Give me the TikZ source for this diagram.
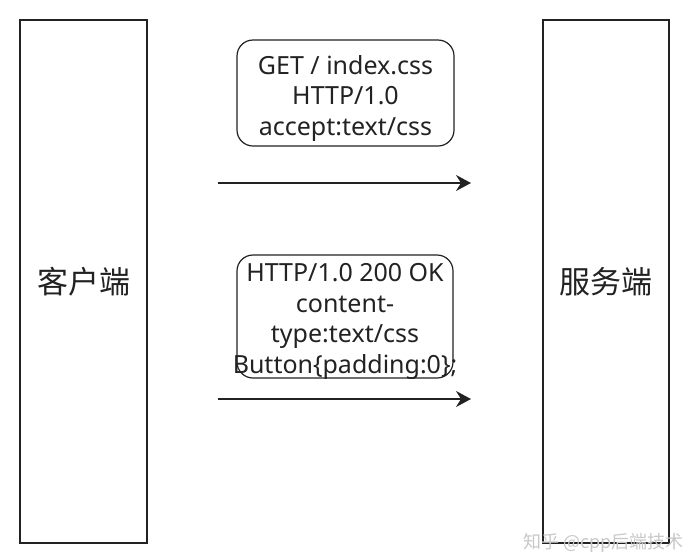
\documentclass[tikz,border=0pt]{standalone}
\usepackage{fontspec}
\setmainfont{Noto Sans}
\newfontfamily\cjk{Noto Sans CJK SC}
\usetikzlibrary{arrows.meta}
\definecolor{ink}{HTML}{222222}
\definecolor{wm}{HTML}{C8C8C8}
\begin{document}
\begin{tikzpicture}[x=1pt,y=-1pt,
  party/.style={draw=ink, line width=1.4pt, inner sep=0pt, font=\cjk\fontsize{31pt}{36pt}\selectfont, text=ink},
  msgbox/.style={draw=ink, line width=1.2pt, rounded corners=16pt, inner sep=0pt},
  msgtext/.style={align=center, inner sep=0pt, font=\fontsize{25pt}{30.5pt}\selectfont, text=ink},
  flow/.style={draw=ink, line width=1.5pt, -{Stealth[length=15pt,width=16pt,inset=5pt]}}]
\useasboundingbox (0,0) rectangle (688,555);
\node[party, minimum width=127pt, minimum height=523pt] (client) at (83.5,281.5) {客户端};
\node[party, minimum width=126pt, minimum height=523pt] (server) at (606,281.5) {服务端};
\node[msgbox, minimum width=217pt, minimum height=106pt] (req) at (345.5,93) {};
\node[msgtext] (reqtext) at ([yshift=-5pt]req.center) {GET / index.css\\HTTP/1.0\\accept:text/css};
\node[msgbox, minimum width=216pt, minimum height=123pt] (resp) at (345,316.5) {};
\node[msgtext] (resptext) at ([yshift=-5pt]resp.center) {HTTP/1.0 200 OK\\content-\\type:text/css\\Button\{padding:0\};};
\coordinate (a1s) at (218,183);
\coordinate (a1e) at (471,183);
\coordinate (a2s) at (218,399);
\coordinate (a2e) at (471,399);
\draw[flow] (a1s) -- (a1e);
\draw[flow] (a2s) -- (a2e);
\node[anchor=east, inner sep=0pt, text=wm, font=\cjk\fontsize{18pt}{22pt}\selectfont] (mark) at (684,543) {知乎 @cpp后端技术};
\end{tikzpicture}
\end{document}
